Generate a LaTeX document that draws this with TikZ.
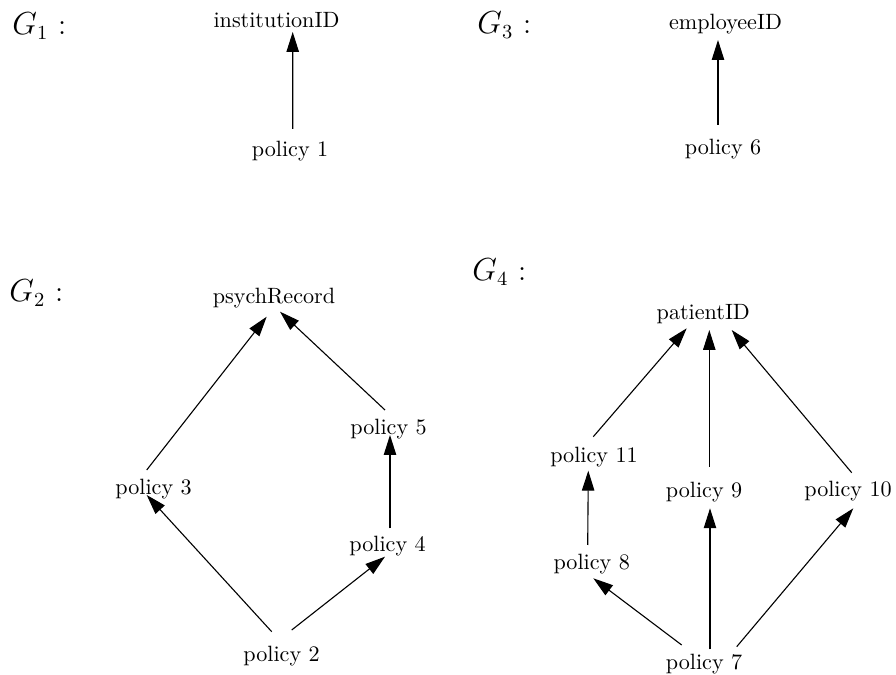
\documentclass[tikz,border=0pt]{standalone}
\usetikzlibrary{arrows.meta,calc}
\begin{document}
\begin{tikzpicture}[x=0.4518pt,y=-0.4518pt,
  lbl/.style={inner sep=0pt,anchor=base,font=\fontsize{10}{12}\selectfont},
  glbl/.style={inner sep=0pt,anchor=base west,font=\fontsize{13.5}{16}\selectfont},
  arr/.style={-{Triangle[length=9pt,width=5.6pt]},line width=0.5pt}]
\useasboundingbox (0,0) rectangle (896,675);
% labels
\node[glbl] (g1) at (12,35) {$G_1$ :};
\node[glbl] (g3) at (477,34) {$G_3$ :};
\node[glbl] (g2) at (9,302) {$G_2$ :};
\node[glbl] (g4) at (472,281) {$G_4$ :};
% G1
\node[lbl] (inst) at (276.5,28) {institutionID};
\node[lbl] (p1) at (290,157) {policy 1};
\draw[arr] ($(p1.base)+(2.7,-28)$) -- ($(inst.base)+(16.2,4)$);
% G3
\node[lbl] (emp) at (725.5,30) {employeeID};
\node[lbl] (p6) at (723,155) {policy 6};
\draw[arr] ($(p6.base)+(-5,-30)$) -- ($(emp.base)+(-7.5,10)$);
% G2
\node[lbl] (psy) at (274,304) {psychRecord};
\node[lbl] (p3) at (153.5,495) {policy 3};
\node[lbl] (p5) at (388.5,435) {policy 5};
\node[lbl] (p4) at (387.5,552) {policy 4};
\node[lbl] (p2) at (281.5,662) {policy 2};
\draw[arr] ($(p3.base)+(-6.8,-25)$) -- ($(psy.base)+(-7.3,12.7)$);
\draw[arr] ($(p5.base)+(-3.5,-25)$) -- ($(psy.base)+(6,7.7)$);
\draw[arr] ($(p4.base)+(2.5,-23.7)$) -- ($(p5.base)+(1.5,0)$);
\draw[arr] ($(p2.base)+(10.2,-32)$) -- ($(p4.base)+(-2.5,4.7)$);
\draw[arr] ($(p2.base)+(-9.8,-30.3)$) -- ($(p3.base)+(-6.8,0)$);
% G4
\node[lbl] (pat) at (703.3,320) {patientID};
\node[lbl] (p11) at (594,463) {policy 11};
\node[lbl] (p9) at (704,498) {policy 9};
\node[lbl] (p10) at (848,496.7) {policy 10};
\node[lbl] (p8) at (591.7,570) {policy 8};
\node[lbl] (p7) at (704,670) {policy 7};
\draw[arr] ($(p11.base)+(-0.7,-26.3)$) -- ($(pat.base)+(-16.6,8.3)$);
\draw[arr] ($(p9.base)+(5.3,-31.3)$) -- ($(pat.base)+(6,10)$);
\draw[arr] ($(p10.base)+(3.7,-24)$) -- ($(pat.base)+(28.4,10)$);
\draw[arr] ($(p8.base)+(-4,-25)$) -- ($(p11.base)+(-5.7,7.7)$);
\draw[arr] ($(p7.base)+(-22.3,-25)$) -- ($(p8.base)+(1.6,8.3)$);
\draw[arr] ($(p7.base)+(6,-20.7)$) -- ($(p9.base)+(6,10.3)$);
\draw[arr] ($(p7.base)+(32.7,-23.3)$) -- ($(p10.base)+(5.3,11.6)$);
\end{tikzpicture}
\end{document}
